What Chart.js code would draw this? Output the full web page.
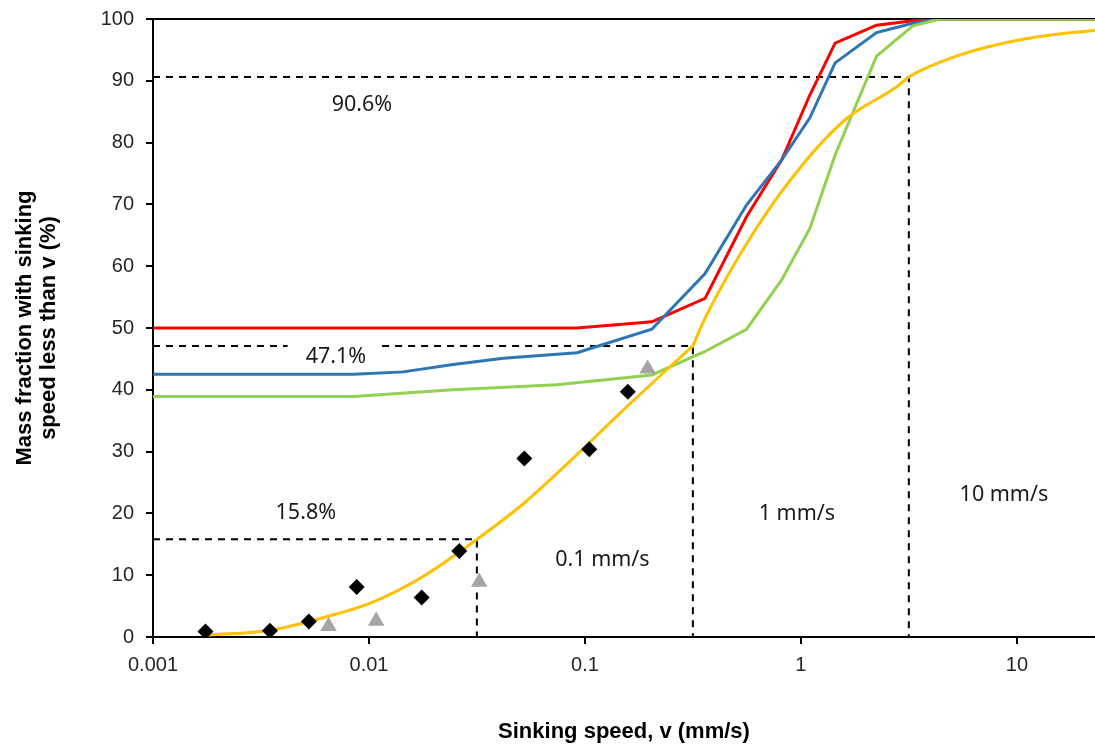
<!DOCTYPE html>
<html>
<head>
<meta charset="utf-8">
<script src="https://cdn.jsdelivr.net/npm/chart.js@4"></script>
<style>
  html, body { margin: 0; padding: 0; background: #fff; }
  #wrap { width: 1095px; height: 748px; }
</style>
</head>
<body>
<div id="wrap"><canvas id="sinkChart" width="1095" height="748"></canvas></div>
<script>
// Sinking speed distributions (x in mm/s, y in % mass fraction)
const redX = [0.001, 0.092, 0.204, 0.36, 0.56, 0.815, 1.10, 1.44, 2.24, 3.3, 4.4, 23];
const redY = [50, 50, 51.0, 54.8, 68.0, 77.2, 87.7, 96.1, 99.0, 99.7, 100, 100];

const blueX = [0.001, 0.0085, 0.0144, 0.0245, 0.042, 0.092, 0.204, 0.36, 0.56, 0.815, 1.10, 1.44, 2.24, 3.3, 4.4, 23];
const blueY = [42.5, 42.5, 42.9, 44.1, 45.1, 46.0, 49.8, 58.8, 69.9, 77.2, 84.0, 92.9, 97.8, 99.3, 100, 100];

const greenX = [0.001, 0.0085, 0.0245, 0.074, 0.204, 0.36, 0.56, 0.815, 1.10, 1.44, 2.24, 3.3, 4.4, 23];
const greenY = [38.9, 38.9, 40.0, 40.8, 42.4, 46.2, 49.8, 57.8, 66.1, 78.0, 94.0, 98.9, 100, 100];

// fitted curve (yellow), lower and upper branch meet at 0.316 mm/s
const fitLowX = [0.0018, 0.0035, 0.0064, 0.0105, 0.0178, 0.0316, 0.052, 0.088, 0.145, 0.316];
const fitLowY = [0.3, 1.1, 3.3, 5.7, 9.8, 15.8, 21.6, 28.9, 36.2, 47.1];
const fitHighX = [0.316, 0.36, 0.60, 1.0, 1.63, 2.77, 3.16, 4.48, 7.36, 12.3, 23];
const fitHighY = [47.1, 51.6, 65.3, 76.1, 83.9, 89.0, 90.6, 93.1, 95.5, 97.1, 98.2];

// measured points
const diamondX = [0.00175, 0.00348, 0.00527, 0.00877, 0.01754, 0.0262, 0.0524, 0.1047, 0.158];
const diamondY = [0.9, 1.0, 2.5, 8.1, 6.4, 13.9, 28.9, 30.4, 39.7];
const triangleX = [0.0065, 0.0108, 0.0324, 0.195];
const triangleY = [1.75, 2.6, 8.9, 43.4];

// dashed guide lines
const guideLevels = [15.8, 47.1, 90.6];
const guideSpeeds = [0.0316, 0.316, 3.16];
const guideGaps = [null, [0.0042, 0.0115], null];

// text notes on the plot
const noteTexts = ['90.6%', '47.1%', '15.8%', '0.1 mm/s', '1 mm/s', '10 mm/s'];
const noteX = [0.00928, 0.00703, 0.0051, 0.1205, 0.958, 8.71];
const noteY = [86.1, 45.3, 20.1, 12.5, 19.9, 23.0];

const xTickValues = [0.001, 0.01, 0.1, 1, 10];
const xTickLabels = ['0.001', '0.01', '0.1', '1', '10'];

const X_MIN = 0.001;
const X_MAX = 23;

function pts(xs, ys) {
    return xs.map((x, i) => ({ x: x, y: ys[i] }));
}

function lineSet(xs, ys, color, extra) {
    return Object.assign({
        data: pts(xs, ys),
        showLine: true,
        borderColor: color,
        backgroundColor: color,
        borderWidth: 3,
        pointRadius: 0,
        tension: 0,
        order: 2
    }, extra || {});
}

function guideSet(i) {
    const level = guideLevels[i];
    const speed = guideSpeeds[i];
    let data = [{ x: X_MIN, y: level }];
    if (guideGaps[i]) {
        data.push({ x: guideGaps[i][0], y: level });
        data.push({ x: guideGaps[i][0], y: null });
        data.push({ x: guideGaps[i][1], y: level });
    }
    data.push({ x: speed, y: level });
    data.push({ x: speed, y: 0 });
    return {
        data: data,
        showLine: true,
        spanGaps: false,
        borderColor: '#000',
        borderWidth: 2,
        borderDash: [7, 6],
        pointRadius: 0,
        order: 3
    };
}

const tickFont = { family: "'Liberation Sans', Arial, sans-serif", size: 20 };
const titleFont = { family: "'Liberation Sans', Arial, sans-serif", size: 22, weight: 'bold', lineHeight: 1.1 };

// top frame line of the plot area
const topFrame = {
    id: 'topFrame',
    beforeDatasetsDraw(chart) {
        const { ctx, chartArea } = chart;
        ctx.save();
        ctx.strokeStyle = '#000';
        ctx.lineWidth = 2;
        ctx.beginPath();
        ctx.moveTo(chartArea.left, chartArea.top);
        ctx.lineTo(chartArea.right, chartArea.top);
        ctx.stroke();
        ctx.restore();
    }
};

// annotation texts placed in data coordinates
const notes = {
    id: 'notes',
    afterDatasetsDraw(chart) {
        const { ctx } = chart;
        const xs = chart.scales.x;
        const ys = chart.scales.y;
        ctx.save();
        ctx.font = "21.5px 'Noto Sans', 'Open Sans', sans-serif";
        ctx.fillStyle = '#1a1a1a';
        ctx.textAlign = 'center';
        ctx.textBaseline = 'middle';
        noteTexts.forEach((t, i) => {
            ctx.fillText(t, xs.getPixelForValue(noteX[i]), ys.getPixelForValue(noteY[i]));
        });
        ctx.restore();
    }
};

const datasets = [
    {
        data: pts(diamondX, diamondY),
        pointStyle: 'rectRot',
        pointRadius: 8,
        pointBorderWidth: 0,
        backgroundColor: '#000',
        borderColor: '#000',
        order: 0
    },
    {
        data: pts(triangleX, triangleY),
        pointStyle: 'triangle',
        pointRadius: 9.5,
        pointBorderWidth: 0,
        backgroundColor: '#A5A5A5',
        borderColor: '#A5A5A5',
        order: 0
    },
    lineSet(fitLowX, fitLowY, '#FFC000', { cubicInterpolationMode: 'monotone', order: 1 }),
    lineSet(fitHighX, fitHighY, '#FFC000', { cubicInterpolationMode: 'monotone', order: 1 }),
    lineSet(greenX, greenY, '#92D050'),
    lineSet(blueX, blueY, '#2E75B6'),
    lineSet(redX, redY, '#FF0000'),
    guideSet(0),
    guideSet(1),
    guideSet(2)
];

function noPadding(scale) {
    scale.paddingLeft = 0;
    scale.paddingRight = 0;
    scale.paddingTop = 0;
    scale.paddingBottom = 0;
}

const config = {
    type: 'scatter',
    data: { datasets: datasets },
    options: {
        responsive: false,
        animation: false,
        devicePixelRatio: 1,
        layout: {
            autoPadding: false,
            padding: { top: 19, right: 0, bottom: 0, left: 0 }
        },
        plugins: {
            legend: { display: false },
            tooltip: { enabled: false }
        },
        scales: {
            x: {
                type: 'logarithmic',
                position: 'bottom',
                min: X_MIN,
                max: X_MAX,
                afterBuildTicks: (scale) => {
                    scale.ticks = xTickValues.map(v => ({ value: v }));
                },
                afterFit: (scale) => { scale.height = 111; noPadding(scale); },
                ticks: {
                    autoSkip: false,
                    maxRotation: 0,
                    padding: 9,
                    font: tickFont,
                    color: '#262626',
                    callback: (value, index) => xTickLabels[index]
                },
                grid: {
                    drawOnChartArea: false,
                    drawTicks: true,
                    tickLength: 7,
                    color: '#000',
                    lineWidth: 2
                },
                border: { display: true, color: '#000', width: 2 },
                title: {
                    display: true,
                    text: 'Sinking speed, v (mm/s)',
                    font: titleFont,
                    color: '#000',
                    padding: { top: 0, bottom: 4 }
                }
            },
            y: {
                min: 0,
                max: 100,
                afterFit: (scale) => { scale.width = 153; noPadding(scale); },
                ticks: {
                    stepSize: 10,
                    padding: 12,
                    font: tickFont,
                    color: '#262626'
                },
                grid: {
                    drawOnChartArea: false,
                    drawTicks: true,
                    tickLength: 7,
                    color: '#000',
                    lineWidth: 2
                },
                border: { display: true, color: '#000', width: 2 },
                title: {
                    display: true,
                    text: ['Mass fraction with sinking', 'speed less than v (%)'],
                    font: titleFont,
                    color: '#000',
                    padding: { top: 13, bottom: 0 }
                }
            }
        }
    },
    plugins: [topFrame, notes]
};

if (typeof Chart !== 'undefined') {
    window.sinkChart = new Chart(document.getElementById('sinkChart'), config);
} else {
    console.error('Chart.js not available');
}
</script>
</body>
</html>
